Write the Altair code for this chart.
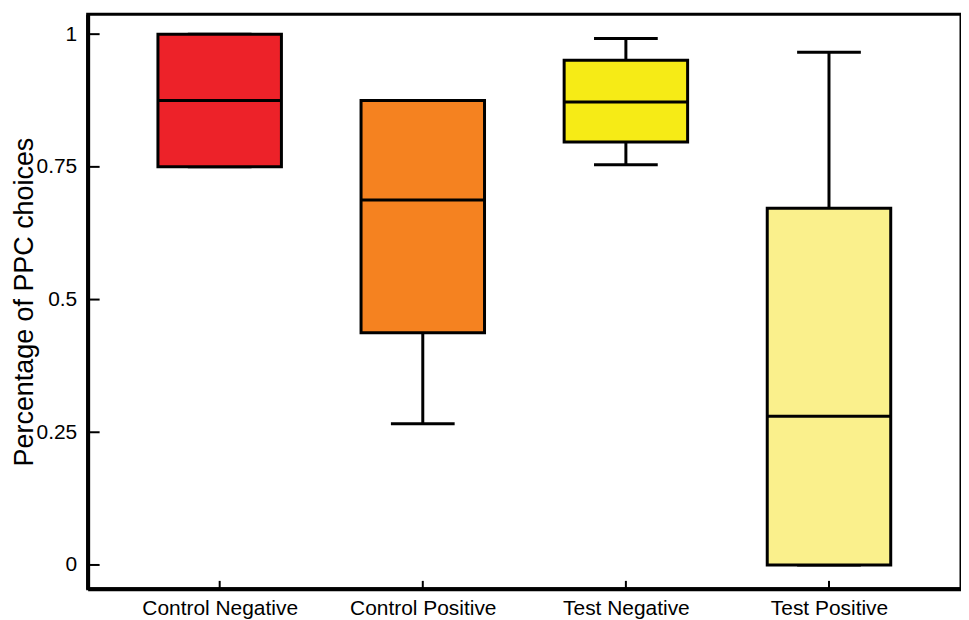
import altair as alt
import pandas as pd

categories = ["Control Negative", "Control Positive", "Test Negative", "Test Positive"]
mins    = [0.75, 0.266, 0.754, 0.0]
q1s     = [0.75, 0.4375, 0.797, 0.0]
medians = [0.875, 0.6875, 0.872, 0.28]
q3s     = [1.0, 0.875, 0.951, 0.672]
maxs    = [1.0, 0.875, 0.992, 0.966]
colors  = ["#ED2229", "#F58220", "#F6EB16", "#FAF08C"]
y_ticks = [0, 0.25, 0.5, 0.75, 1]

df = pd.DataFrame({
    "cat": categories, "min": mins, "q1": q1s, "median": medians,
    "q3": q3s, "max": maxs, "color": colors,
})
ticks_df = pd.DataFrame({"v": y_ticks})

FONT = "Liberation Sans"

x_enc = alt.X("cat:N", sort=categories, title=None,
              scale=alt.Scale(type="point", padding=0.65),
              axis=alt.Axis(labelAngle=0, labelFont=FONT, labelFontSize=21,
                            labelColor="black", tickSize=0, labelPadding=9,
                            domainColor="black", domainWidth=4))
y_scale = alt.Scale(domain=[-0.045, 1.0375], nice=False, zero=False)
y_axis = alt.Axis(values=y_ticks, format=".2~f", labelFont=FONT, labelFontSize=21,
                  labelColor="black", tickSize=0, labelPadding=11,
                  grid=False, domainColor="black", domainWidth=4,
                  title="Percentage of PPC choices", titleFont=FONT,
                  titleFontSize=27, titleFontWeight="normal",
                  titleColor="black", titlePadding=-2)

base = alt.Chart(df)

whisker = base.mark_rule(color="black", strokeWidth=3, opacity=1).encode(
    x=x_enc,
    y=alt.Y("min:Q", scale=y_scale, axis=y_axis),
    y2="max:Q",
)
caps_lo = base.mark_tick(color="black", thickness=3, size=64, opacity=1).encode(
    x="cat:N", y="min:Q")
caps_hi = base.mark_tick(color="black", thickness=3, size=64, opacity=1).encode(
    x="cat:N", y="max:Q")
box = base.mark_bar(size=124, stroke="black", strokeWidth=3, opacity=1).encode(
    x="cat:N", y="q1:Q", y2="q3:Q",
    fill=alt.Color("color:N", scale=None),
)
med = base.mark_tick(color="black", thickness=3, size=124, opacity=1).encode(
    x="cat:N", y="median:Q")

ytick_marks = alt.Chart(ticks_df).mark_tick(
    color="black", thickness=2, size=12, opacity=1, orient="horizontal"
).encode(y="v:Q", x=alt.value(6))
xtick_marks = base.mark_rule(color="black", strokeWidth=2).encode(
    x="cat:N", y=alt.value(577), y2=alt.value(569))

chart = alt.layer(whisker, caps_lo, caps_hi, box, med, ytick_marks, xtick_marks).properties(
    width=877, height=577,
    background="white",
    padding={"left": 2, "top": 5, "right": 0, "bottom": 0},
).configure_view(stroke="black", strokeWidth=3)

chart.save("out.html", embed_options={"renderer": "svg", "actions": False})
